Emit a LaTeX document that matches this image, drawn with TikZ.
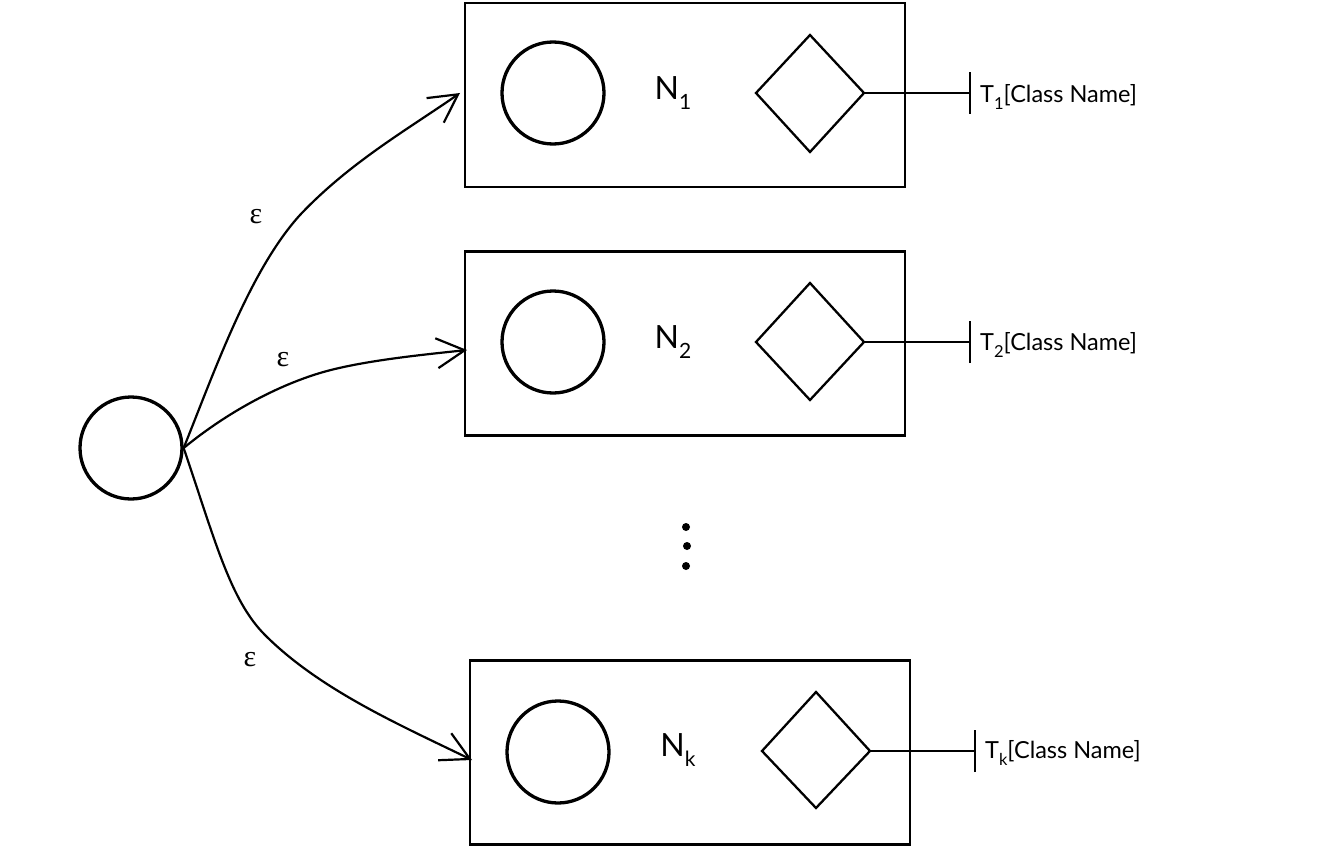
\documentclass[tikz,border=0pt]{standalone}
\usepackage{fontspec}
\setmainfont{Lato}
\newfontfamily\epsfont{Liberation Serif}
\usetikzlibrary{arrows.meta}
\newcommand{\Nlab}[1]{{\fontsize{32}{32}\selectfont N\raisebox{-0.3em}{\fontsize{21}{21}\selectfont #1}}}
\newcommand{\Tlab}[1]{{\fontsize{23.5}{23.5}\selectfont T\raisebox{-0.3em}{\fontsize{16.5}{16.5}\selectfont #1}[Class Name]}}
\begin{document}
\begin{tikzpicture}[x=1pt,y=-1pt,
  boxst/.style={draw,line width=2.3pt,minimum width=440pt,minimum height=184pt,inner sep=0pt},
  statest/.style={draw,circle,line width=3.3pt,minimum size=102pt,inner sep=0pt},
  lab/.style={inner sep=0pt},
  eps/.style={font=\epsfont\fontsize{30}{30}\selectfont,inner sep=0pt},
  arr/.style={line width=2.2pt,-{Straight Barb[length=28pt,width=30pt,line width=2.2pt]}},
  conn/.style={line width=2.3pt},
  dotst/.style={fill,circle,minimum size=8pt,inner sep=0pt}]
\useasboundingbox (0,0) rectangle (1317,848);
% start state
\node[statest] (s) at (131,448) {};
% box 1
\node[boxst] (b1) at (685,95) {};
\node[statest] (c1) at (553,93) {};
\node[lab] (n1) at (673,93) {\Nlab{1}};
\draw[conn] (810,35) -- (864,93) -- (810,152) -- (756,93) -- cycle;
\coordinate (d1) at (864,93);
\coordinate (t1) at (970,93);
\draw[conn] (d1) -- (t1);
\draw[conn] ([yshift=-21pt]t1) -- ([yshift=21pt]t1);
\node[lab,anchor=west] (l1) at (980,97) {\Tlab{1}};
% box 2
\node[boxst] (b2) at (685,343.5) {};
\node[statest] (c2) at (553,342) {};
\node[lab] (n2) at (673,342) {\Nlab{2}};
\draw[conn] (810,283) -- (864,342) -- (810,400) -- (756,342) -- cycle;
\coordinate (d2) at (864,342);
\coordinate (t2) at (970,342);
\draw[conn] (d2) -- (t2);
\draw[conn] ([yshift=-21pt]t2) -- ([yshift=21pt]t2);
\node[lab,anchor=west] (l2) at (980,345) {\Tlab{2}};
% box k
\node[boxst] (bk) at (690,752.5) {};
\node[statest] (ck) at (558,752) {};
\node[lab] (nk) at (678,750) {\Nlab{k}};
\draw[conn] (816,692) -- (870,751) -- (816,808) -- (762,751) -- cycle;
\coordinate (dk) at (870,751);
\coordinate (tk) at (975,751);
\draw[conn] (dk) -- (tk);
\draw[conn] ([yshift=-21pt]tk) -- ([yshift=21pt]tk);
\node[lab,anchor=west] (lk) at (985,753) {\Tlab{k}};
% dots
\node[dotst] (p1) at (686,527) {};
\node[dotst] (p2) at (687,546) {};
\node[dotst] (p3) at (686,566) {};
% arrows
\coordinate (a1) at (460,93);
\coordinate (a2) at (467,350);
\coordinate (a3) at (472,760);
\draw[arr] (s.east) .. controls (215,370) and (250,270) .. (300,215) .. controls (350,162) and (410,128) .. (a1);
\draw[arr] (s.east) .. controls (230,410) and (280,385) .. (320,373) .. controls (360,361) and (420,355) .. (a2);
\draw[arr] (s.east) .. controls (215,540) and (230,600) .. (265,635) .. controls (320,690) and (400,725) .. (a3);
\node[eps] (e1) at (256,217) {ε};
\node[eps] (e2) at (283,360) {ε};
\node[eps] (e3) at (250,660) {ε};
\end{tikzpicture}
\end{document}
